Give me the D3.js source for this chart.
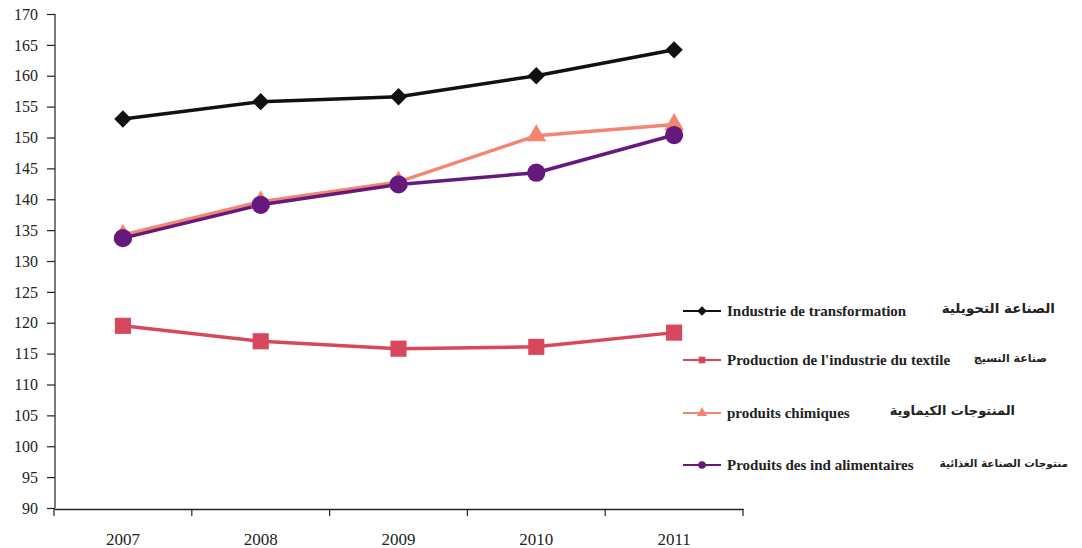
<!DOCTYPE html>
<html><head><meta charset="utf-8">
<script src="https://cdn.jsdelivr.net/npm/d3@7"></script>
<style>body{margin:0;background:#fff}svg{display:block}</style>
</head><body>
<svg id="c" width="1082" height="548"></svg>
<script>
const years = ["2007","2008","2009","2010","2011"];
const yTicks = [90,95,100,105,110,115,120,125,130,135,140,145,150,155,160,165,170];
const transformation = [153.0,155.8,156.6,160.0,164.2];
const textile = [119.5,117.0,115.8,116.1,118.4];
const chimiques = [134.2,139.6,142.8,150.3,152.1];
const alimentaires = [133.7,139.1,142.4,144.3,150.4];
const labelsFr = ["Industrie de transformation","Production de l'industrie du textile","produits chimiques","Produits des ind alimentaires"];
const labelsAr = ["الصناعة التحويلية","صناعة النسيج","المنتوجات الكيماوية","منتوجات الصناعة الغذائية"];

const diamond = {draw(ctx, size){ const r = Math.sqrt(size/2); ctx.moveTo(0,-r); ctx.lineTo(r,0); ctx.lineTo(0,r); ctx.lineTo(-r,0); ctx.closePath(); }};

const series = [
  {v:transformation, color:"#111111", sym:diamond, size:150, w:3.5},
  {v:textile, color:"#d8485c", sym:d3.symbolSquare, size:260, w:3.5},
  {v:chimiques, color:"#f28672", sym:d3.symbolTriangle, size:170, w:3.5},
  {v:alimentaires, color:"#65197f", sym:d3.symbolCircle, size:260, w:3.5}
];

const svg = d3.select("#c");
const x = d3.scaleBand().domain(years).range([54,743]);
const y = d3.scaleLinear().domain([90,170]).range([508,14]);
const font = "'Liberation Serif', 'DejaVu Serif', serif";

const ya = svg.append("g").attr("transform","translate(55,0)")
  .call(d3.axisLeft(y).tickValues(yTicks).tickSize(8).tickPadding(9));
ya.selectAll("text").attr("font-family",font).attr("font-size",16).attr("fill","#222");
ya.selectAll("line,path").attr("stroke","#222").attr("stroke-width",1.2);
ya.select(".domain").attr("d","M0,14V508");

const xa = svg.append("g").attr("transform","translate(0,509)")
  .call(d3.axisBottom(x).tickSize(0).tickPadding(24));
xa.selectAll("text").attr("font-family",font).attr("font-size",17).attr("fill","#222");
xa.select(".domain").attr("stroke","#222").attr("stroke-width",1.5);
xa.selectAll(".bt").data(d3.range(6)).enter().append("line")
  .attr("x1",i=>54+i*x.bandwidth()).attr("x2",i=>54+i*x.bandwidth())
  .attr("y1",0).attr("y2",7).attr("stroke","#222").attr("stroke-width",1.2);

const cx = d => x(d)+x.bandwidth()/2;
const line = d3.line().x((d,i)=>cx(years[i])).y(d=>y(d));

const order = [2,3,1,0];
order.forEach(k=>{
  const s = series[k];
  svg.append("path").attr("d",line(s.v)).attr("fill","none")
    .attr("stroke",s.color).attr("stroke-width",s.w).attr("stroke-linejoin","round");
});
order.forEach(k=>{
  const s = series[k];
  svg.selectAll(null).data(s.v).enter().append("path")
    .attr("d",d3.symbol().type(s.sym).size(s.size))
    .attr("transform",(d,i)=>`translate(${cx(years[i])},${y(d)})`)
    .attr("fill",s.color);
});

// Legend
const ly = [311,360,413,465];
const arRight = [372,364,332,385];
const arSize = [13.5,11,13,10.5];
series.forEach((s,i)=>{
  const g = svg.append("g").attr("transform",`translate(683,${ly[i]})`);
  g.append("line").attr("x1",0).attr("x2",38).attr("y1",0).attr("y2",0)
    .attr("stroke",s.color).attr("stroke-width",1.8);
  g.append("path").attr("d",d3.symbol().type(s.sym).size(45)).attr("transform","translate(19,0)").attr("fill",s.color);
  g.append("text").attr("x",44).attr("y",5).text(labelsFr[i])
    .attr("font-family",font).attr("font-size",15).attr("font-weight","bold").attr("fill","#222");
  g.append("text").attr("x",arRight[i]).attr("y",2).attr("text-anchor","end")
    .text(labelsAr[i]).attr("font-family","'DejaVu Sans', sans-serif").attr("font-size",arSize[i]).attr("font-weight","bold").attr("fill","#222");
});
</script>
</body></html>
